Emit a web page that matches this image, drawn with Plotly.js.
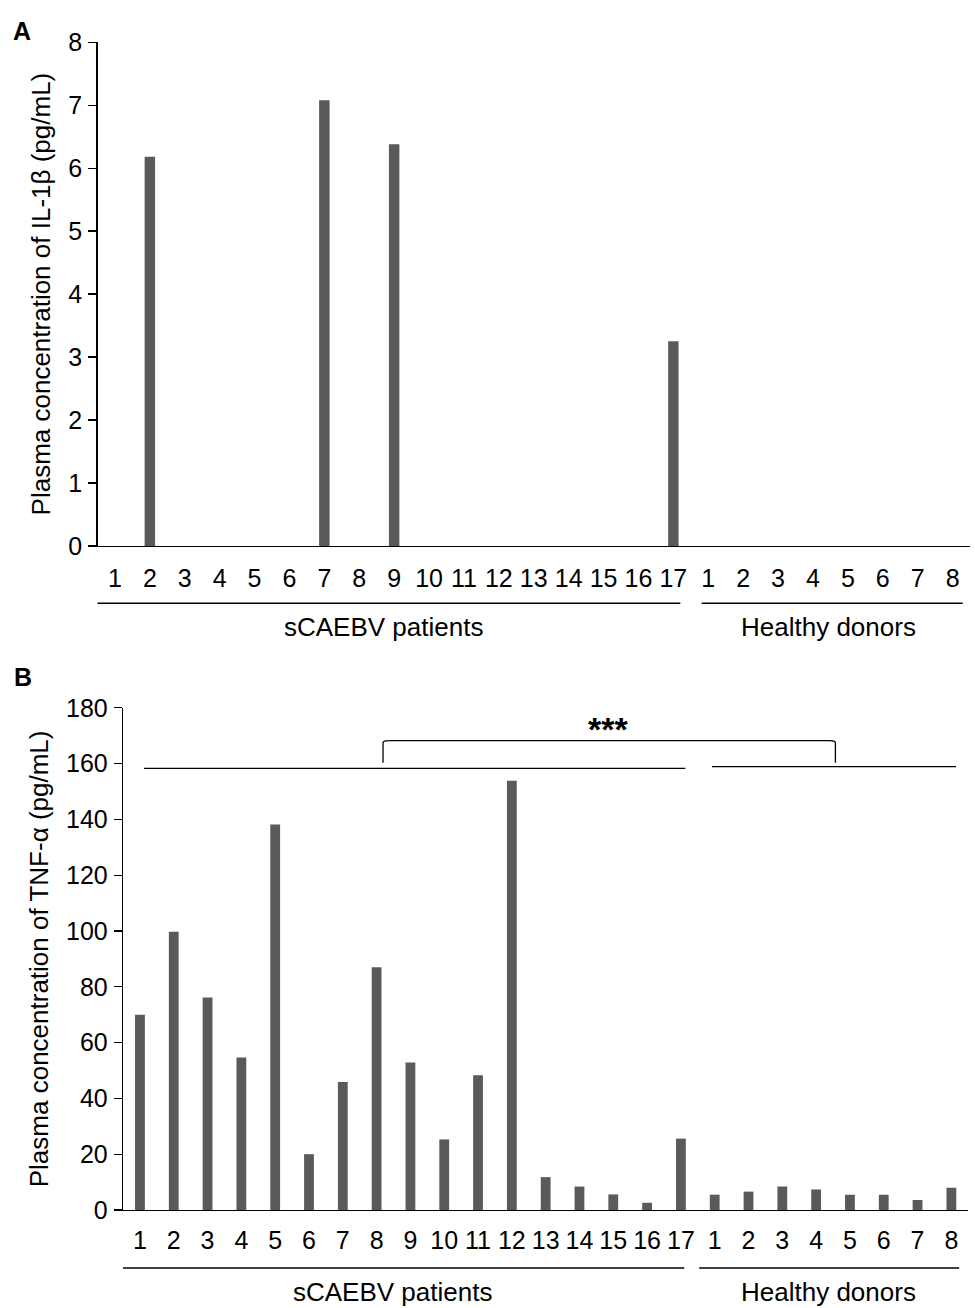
<!DOCTYPE html>
<html>
<head>
<meta charset="utf-8">
<script src="https://cdn.plot.ly/plotly-3.0.1.min.js"></script>
<style>html,body{margin:0;padding:0;background:#fff}#chart{width:975px;height:1308px}</style>
</head>
<body>
<div id="chart"></div>
<script>
// ---- Data ----
const patientLabels = ["1","2","3","4","5","6","7","8","9","10","11","12","13","14","15","16","17"];
const donorLabels = ["1","2","3","4","5","6","7","8"];
const groupNames = ["sCAEBV patients", "Healthy donors"];

// Panel A: IL-1β (pg/mL)
const il1bPatients = [0, 6.18, 0, 0, 0, 0, 7.08, 0, 6.38, 0, 0, 0, 0, 0, 0, 0, 3.25];
const il1bDonors   = [0, 0, 0, 0, 0, 0, 0, 0];

// Panel B: TNF-α (pg/mL)
const tnfPatients = [70, 99.7, 76.2, 54.7, 138.2, 20, 45.9, 87, 52.9, 25.3, 48.3, 153.8, 11.8, 8.4, 5.6, 2.6, 25.6];
const tnfDonors   = [5.5, 6.6, 8.4, 7.4, 5.5, 5.5, 3.6, 8.0];
const significance = "***";

// ---- Build ----
const ids = patientLabels.map(p => "P" + p).concat(donorLabels.map(d => "H" + d));
const tickText = patientLabels.concat(donorLabels);
const nP = patientLabels.length, nAll = ids.length;

const barColor = "#5a5a5a";
const FONT = "Liberation Sans, Arial, sans-serif";

const traces = [
  {type: "bar", x: ids, y: il1bPatients.concat(il1bDonors), xaxis: "x", yaxis: "y",
   width: 0.3, marker: {color: barColor, line: {width: 0}}, hoverinfo: "x+y"},
  {type: "bar", x: ids, y: tnfPatients.concat(tnfDonors), xaxis: "x2", yaxis: "y2",
   width: 0.29, marker: {color: barColor, line: {width: 0}}, hoverinfo: "x+y"}
];

const xCommon = {
  type: "category", tickmode: "array", tickvals: ids, ticktext: tickText,
  range: [-0.5, nAll - 0.5], showline: true, linecolor: "#000", linewidth: 1.3,
  ticks: "", showgrid: false, zeroline: false,
  tickfont: {family: FONT, size: 25, color: "#000"}, fixedrange: true
};
const yCommon = {
  showline: true, linecolor: "#000", linewidth: 1.3, ticks: "outside", ticklen: 8,
  tickcolor: "#000", tickwidth: 1.3, showgrid: false, zeroline: false,
  ticklabelstandoff: 1, tickfont: {family: FONT, size: 25, color: "#000"}, fixedrange: true
};
const titleFont = {family: FONT, size: 26, color: "#000"};

const layout = {
  width: 975, height: 1308, autosize: false,
  margin: {l: 0, r: 0, t: 0, b: 0},
  paper_bgcolor: "#fff", plot_bgcolor: "#fff",
  showlegend: false, font: {family: FONT, color: "#000"},
  xaxis: Object.assign({}, xCommon, {domain: [0.1, 0.9949], anchor: "y", ticklabelstandoff: 10}),
  yaxis: Object.assign({}, yCommon, {domain: [0.5826, 0.9677], anchor: "x", range: [0, 8], dtick: 1,
    title: {text: "Plasma concentration of IL-1β (pg/mL)", font: titleFont, standoff: 10}}),
  xaxis2: Object.assign({}, xCommon, {domain: [0.1262, 0.9931], anchor: "y2", ticklabelstandoff: 8}),
  yaxis2: Object.assign({}, yCommon, {domain: [0.0749, 0.4589], anchor: "x2", range: [0, 180], dtick: 20,
    title: {text: "Plasma concentration of TNF-α (pg/mL)", font: titleFont, standoff: 10}}),
  shapes: [], annotations: []
};

const lineStyle = {color: "#000", width: 1.3};
// group underline lines (A)
layout.shapes.push({type: "line", xref: "x", yref: "paper", x0: -0.65, x1: nP - 0.8, y0: 0.5388, y1: 0.5388, line: lineStyle});
layout.shapes.push({type: "line", xref: "x", yref: "paper", x0: nP - 0.19, x1: nAll - 0.71, y0: 0.5388, y1: 0.5388, line: lineStyle});
// group underline lines (B)
layout.shapes.push({type: "line", xref: "x2", yref: "paper", x0: -1.15, x1: nP - 0.9, y0: 0.0306, y1: 0.0306, line: lineStyle});
layout.shapes.push({type: "line", xref: "x2", yref: "paper", x0: nP - 0.46, x1: nAll - 0.77, y0: 0.0306, y1: 0.0306, line: lineStyle});
// significance lines (B)
layout.shapes.push({type: "line", xref: "x2", yref: "y2", x0: 0.12, x1: 16.13, y0: 158.3, y1: 158.3, line: lineStyle});
layout.shapes.push({type: "line", xref: "x2", yref: "y2", x0: 16.92, x1: 24.14, y0: 158.9, y1: 158.9, line: lineStyle});
layout.shapes.push({type: "line", xref: "x2", yref: "y2", x0: 7.19, x1: 7.19, y0: 160.3, y1: 167.4, line: lineStyle});
layout.shapes.push({type: "path", xref: "x2", yref: "y2", path: "M7.19,167.4 Q7.19,168.2 7.35,168.2", line: lineStyle});
layout.shapes.push({type: "line", xref: "x2", yref: "y2", x0: 7.35, x1: 20.41, y0: 168.2, y1: 168.2, line: lineStyle});
layout.shapes.push({type: "path", xref: "x2", yref: "y2", path: "M20.41,168.2 Q20.57,168.2 20.57,167.4", line: lineStyle});
layout.shapes.push({type: "line", xref: "x2", yref: "y2", x0: 20.57, x1: 20.57, y0: 167.4, y1: 160.3, line: lineStyle});

const annFont = {family: FONT, size: 26, color: "#000"};
layout.annotations.push({xref: "x2", yref: "y2", x: 13.85, y: 172.5, yanchor: "middle", text: "<b>" + significance + "</b>", showarrow: false, font: {family: FONT, size: 34, color: "#000"}});
layout.annotations.push({xref: "x", yref: "paper", x: 7.7, y: 0.5209, yanchor: "middle", text: groupNames[0], showarrow: false, font: annFont});
layout.annotations.push({xref: "x", yref: "paper", x: 20.45, y: 0.5209, yanchor: "middle", text: groupNames[1], showarrow: false, font: annFont});
layout.annotations.push({xref: "x2", yref: "paper", x: 7.46, y: 0.0125, yanchor: "middle", text: groupNames[0], showarrow: false, font: annFont});
layout.annotations.push({xref: "x2", yref: "paper", x: 20.36, y: 0.0125, yanchor: "middle", text: groupNames[1], showarrow: false, font: annFont});
// panel letters
layout.annotations.push({xref: "paper", yref: "paper", x: 22/975, y: 1 - 31/1308, xanchor: "center", yanchor: "middle", text: "<b>A</b>", showarrow: false, font: {family: FONT, size: 25, color: "#000"}});
layout.annotations.push({xref: "paper", yref: "paper", x: 23/975, y: 1 - 677/1308, xanchor: "center", yanchor: "middle", text: "<b>B</b>", showarrow: false, font: {family: FONT, size: 25, color: "#000"}});

Plotly.newPlot("chart", traces, layout, {staticPlot: true, displayModeBar: false});
</script>
</body>
</html>
